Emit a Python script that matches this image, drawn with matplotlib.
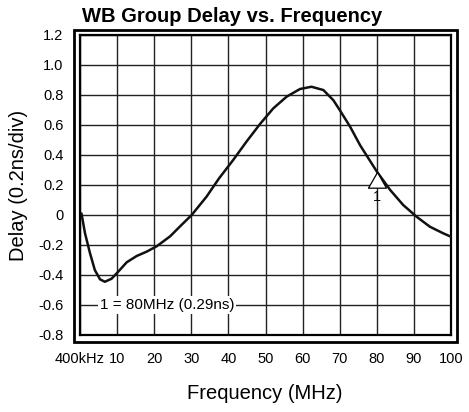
import matplotlib
matplotlib.use("Agg")
import matplotlib.pyplot as plt
from matplotlib.patches import Rectangle
from matplotlib.path import Path

plt.rcParams['font.family'] = ['Liberation Sans', 'DejaVu Sans']

freq = [0.4, 1.35, 2.7, 4.0, 5.4, 6.7, 8.5, 10.3, 12.6, 15.3, 18.0, 20.7, 24.3,
        27.0, 30.1, 34.1, 37.5, 41.3, 44.9, 48.5, 52.1, 55.7, 59.3, 62.4, 65.6,
        68.3, 70.0, 72.8, 75.5, 78.2, 80.0, 83.6, 87.1, 90.7, 94.3, 97.9, 100.0]
delay = [0.01, -0.122, -0.255, -0.367, -0.429, -0.445, -0.425, -0.378, -0.315,
         -0.273, -0.244, -0.208, -0.142, -0.075, 0.0, 0.122, 0.245, 0.367, 0.49,
         0.606, 0.711, 0.789, 0.84, 0.855, 0.833, 0.765, 0.70, 0.589, 0.465, 0.36,
         0.29, 0.167, 0.067, -0.011, -0.078, -0.122, -0.145]
marker_freq = 80
marker_delay = 0.29
xtick_vals = [0, 10, 20, 30, 40, 50, 60, 70, 80, 90, 100]
xtick_labels = ['400kHz', '10', '20', '30', '40', '50', '60', '70', '80', '90', '100']
ytick_vals = [-0.8, -0.6, -0.4, -0.2, 0, 0.2, 0.4, 0.6, 0.8, 1.0, 1.2]
ytick_labels = ['-0.8', '-0.6', '-0.4', '-0.2', '0', '0.2', '0.4', '0.6', '0.8', '1.0', '1.2']

W, H = 469, 412
fig = plt.figure(figsize=(W / 100, H / 100), dpi=100)
ax = fig.add_axes([80/W, 1-335/H, 371/W, 300/H])
ax.set_xlim(0, 100)
ax.set_ylim(-0.8, 1.2)
ax.set_xticks(xtick_vals)
ax.set_xticklabels(xtick_labels)
ax.set_yticks(ytick_vals)
ax.set_yticklabels(ytick_labels)
ax.tick_params(length=0, labelsize=10.5, pad=12)
ax.grid(True, color='#222222', linewidth=1.0)
ax.set_axisbelow(True)
for s in ax.spines.values():
    s.set_linewidth(1.6)
    s.set_color('black')

ax.plot(freq, delay, color='#111111', linewidth=1.8, zorder=3,
        solid_joinstyle='round', solid_capstyle='round')

tri = Path([(0, 0), (-0.575, -1), (0.575, -1), (0, 0)],
           [Path.MOVETO, Path.LINETO, Path.LINETO, Path.CLOSEPOLY])
ax.plot([marker_freq], [marker_delay], marker=tri, markersize=22.6,
        markerfacecolor='white', markeredgecolor='black', markeredgewidth=0.9,
        linestyle='none', zorder=4)
ax.annotate('1', xy=(marker_freq, marker_delay), xytext=(0, -13.5),
            textcoords='offset points', ha='center', va='top', fontsize=10.5, zorder=5)

ax.text(5.3, -0.6, '1 = 80MHz (0.29ns)', fontsize=11, va='center', ha='left',
        bbox=dict(facecolor='white', edgecolor='none', pad=1.5), zorder=5)

# outer frame
fig.add_artist(Rectangle((74/W, 1-342/H), 383/W, 312/H, transform=fig.transFigure,
                         fill=False, edgecolor='black', linewidth=2.0))

fig.text(82/W, 1-22/H, 'WB Group Delay vs. Frequency', fontsize=14.5,
         fontweight='bold', ha='left', va='baseline')
fig.text(265/W, 1-399/H, 'Frequency (MHz)', fontsize=14.5, ha='center', va='baseline')
fig.text(18/W, 1-185/H, 'Delay (0.2ns/div)', fontsize=14.5, rotation=90,
         ha='center', va='center')

fig.savefig('out.png', dpi=100)
